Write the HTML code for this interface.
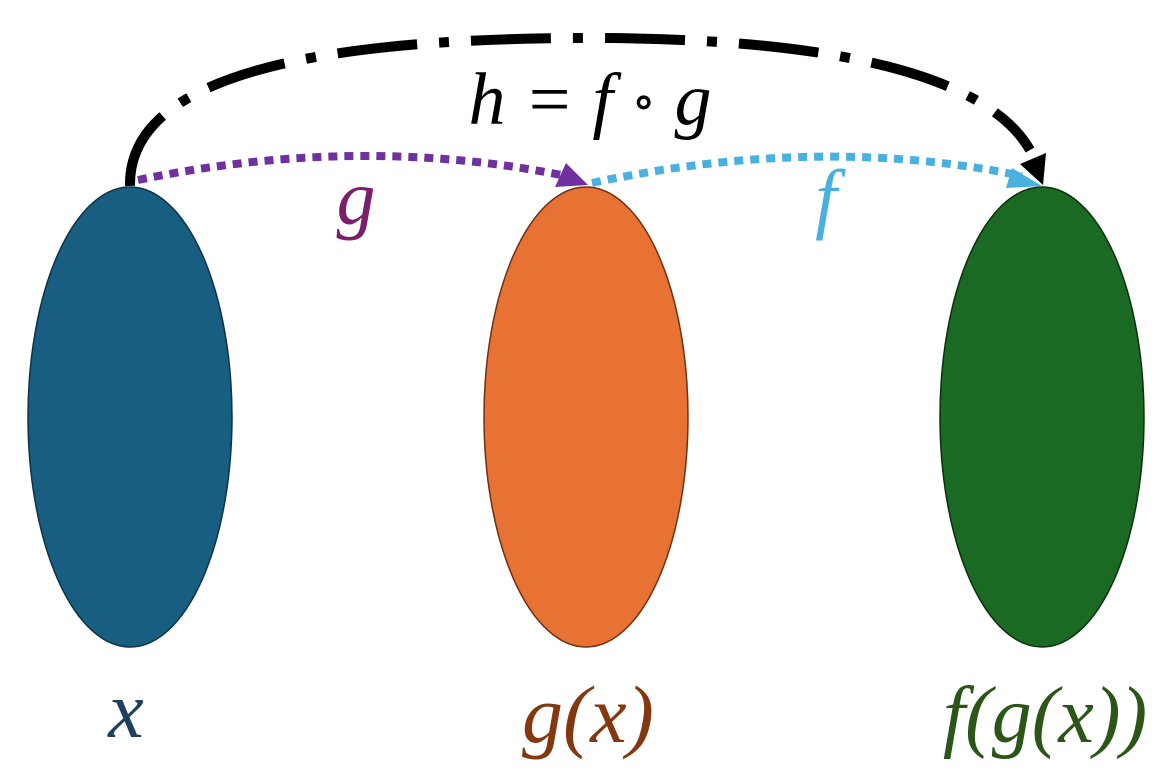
<!DOCTYPE html>
<html><head><meta charset="utf-8"><style>
html,body{margin:0;padding:0;background:#fff;width:1165px;height:782px;overflow:hidden}
text{font-family:"Liberation Serif","DejaVu Serif",serif;font-style:italic}
</style></head><body>
<svg width="1165" height="782" viewBox="0 0 1165 782">
<ellipse cx="130" cy="417" rx="102" ry="230" fill="#175e80" stroke="#0d3346" stroke-width="1.5"/>
<ellipse cx="586" cy="417" rx="102" ry="230" fill="#e87234" stroke="#6b3213" stroke-width="1.5"/>
<ellipse cx="1042" cy="417" rx="102" ry="230" fill="#1b6a23" stroke="#0b300f" stroke-width="1.5"/>
<path d="M130,186 C128,80 300,38 590,38 C850,38 990,80 1030,150" fill="none" stroke="#000" stroke-width="10" stroke-dasharray="80,22,10,22"/>
<polygon points="1046,153 1043,185 1020,164" fill="#000"/>
<path d="M138,180 Q360,134 566,176" fill="none" stroke="#7030a0" stroke-width="8" stroke-dasharray="9,7"/>
<polygon points="566,163 588,185 555,187" fill="#7030a0"/>
<path d="M592,183 Q820,134 1022,176" fill="none" stroke="#49b0e0" stroke-width="8" stroke-dasharray="9,7"/>
<polygon points="1012,168 1042,186 1006,188" fill="#49b0e0"/>
<text x="590" y="124" font-size="74" text-anchor="middle" fill="#000">h = f <tspan font-size="50" dy="-6">∘</tspan><tspan dy="6"> g</tspan></text>
<text x="356" y="224" font-size="78" text-anchor="middle" fill="#7a1f6e">g</text>
<text x="826" y="224" font-size="78" text-anchor="middle" fill="#49b0e0">f</text>
<text x="126" y="737" font-size="80" text-anchor="middle" fill="#1e3f5e">x</text>
<text x="588" y="742" font-size="82" text-anchor="middle" fill="#84380f">g(x)</text>
<text x="1045" y="742" font-size="80" text-anchor="middle" fill="#2c5618">f(g(x))</text>
</svg>
</body></html>
